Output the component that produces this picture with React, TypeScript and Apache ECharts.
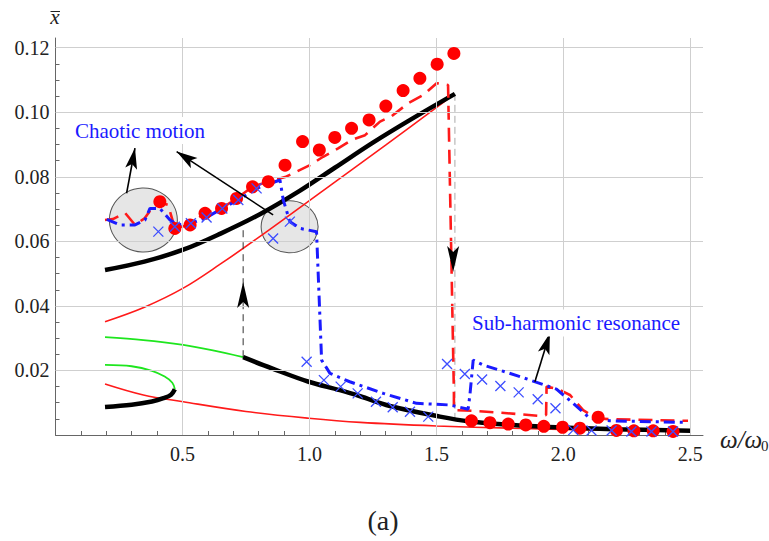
import React, { useEffect, useRef } from 'react';
import * as echarts from 'echarts';

// ---------- tick values ----------
const X_TICK_VALUES = [0.5, 1.0, 1.5, 2.0, 2.5];
const Y_TICK_VALUES = [0.02, 0.04, 0.06, 0.08, 0.1, 0.12];

// ---------- analytical curves ----------
const blackUpper = [
  [0.195, 0.0511], [0.35, 0.0537], [0.503, 0.0574], [0.65, 0.0624], [0.805, 0.0684],
  [0.963, 0.0757], [1.1, 0.0828], [1.25, 0.0906], [1.4, 0.0978], [1.573, 0.1057],
];
const redUpper = [
  [0.195, 0.0351], [0.35, 0.0396], [0.503, 0.0455], [0.65, 0.053], [0.8, 0.0612],
  [1.054, 0.0757], [1.3, 0.0898], [1.566, 0.1053],
];
const greenUpper = [
  [0.195, 0.0303], [0.346, 0.0294], [0.503, 0.0279], [0.62, 0.0262], [0.739, 0.0241],
];
const blackLower = [
  [0.739, 0.0241], [0.85, 0.0207], [0.997, 0.0165], [1.12, 0.0139], [1.2, 0.012],
  [1.317, 0.009], [1.514, 0.0057], [1.632, 0.0042], [1.8, 0.0031], [2.0, 0.0023],
  [2.2, 0.0018], [2.5, 0.0013],
];
const greenFold = [
  [0.195, 0.0217], [0.3, 0.0213], [0.38, 0.0199], [0.43, 0.0181], [0.46, 0.0162], [0.47, 0.0142],
];
const blackFold = [
  [0.47, 0.0142], [0.455, 0.0125], [0.425, 0.0114], [0.38, 0.0104], [0.3, 0.0094], [0.195, 0.0087],
];
const redLower = [
  [0.195, 0.0158], [0.346, 0.0124], [0.503, 0.0103], [0.75, 0.0073], [0.997, 0.0052],
  [1.2, 0.0039], [1.5, 0.0028], [1.8, 0.0021], [2.1, 0.0016], [2.5, 0.0012],
];

// ---------- numerical paths ----------
const redDashed = [
  [0.195, 0.0666], [0.226, 0.0669], [0.274, 0.0688], [0.313, 0.0651], [0.352, 0.0672],
  [0.38, 0.0703], [0.404, 0.0722], [0.443, 0.0713], [0.47, 0.0641], [0.53, 0.0651],
  [0.589, 0.0688], [0.654, 0.0702], [0.713, 0.0733], [0.776, 0.0769], [0.838, 0.0785],
  [0.904, 0.0799], [0.936, 0.0811], [1.002, 0.0836], [1.054, 0.0862], [1.113, 0.0888],
  [1.166, 0.0914], [1.219, 0.0929], [1.278, 0.0971], [1.324, 0.0988], [1.389, 0.1028],
  [1.448, 0.1053], [1.501, 0.109], [1.546, 0.1084], [1.548, 0.1], [1.569, 0.013],
  [1.569, 0.0077], [1.639, 0.0075], [1.757, 0.0069], [1.907, 0.0059], [1.932, 0.0062],
  [1.934, 0.015], [1.98, 0.0142], [2.026, 0.0124], [2.078, 0.0077], [2.131, 0.0052],
  [2.183, 0.0049], [2.491, 0.0044],
];
const blueDashDot = [
  [0.202, 0.0668], [0.254, 0.0651], [0.313, 0.0651], [0.352, 0.0666], [0.372, 0.0702],
  [0.411, 0.0702], [0.451, 0.0666], [0.482, 0.0651], [0.533, 0.0656], [0.595, 0.0674],
  [0.656, 0.0702], [0.719, 0.0728], [0.793, 0.0764], [0.884, 0.079], [0.897, 0.0728],
  [0.923, 0.0661], [0.963, 0.064], [1.028, 0.063], [1.048, 0.0232], [1.081, 0.0191],
  [1.159, 0.0165], [1.291, 0.0129], [1.422, 0.0098], [1.553, 0.0093], [1.625, 0.008],
  [1.632, 0.0124], [1.645, 0.0232], [1.684, 0.0217], [1.829, 0.0181], [1.973, 0.0142],
  [2.039, 0.0098], [2.104, 0.0052], [2.183, 0.0044], [2.485, 0.0039],
];
const redDots = [
  [0.411, 0.0723], [0.47, 0.064], [0.53, 0.0651], [0.589, 0.0687], [0.654, 0.0702],
  [0.713, 0.0733], [0.776, 0.0769], [0.838, 0.0785], [0.904, 0.0836], [0.973, 0.0909],
  [1.039, 0.0883], [1.1, 0.0922], [1.166, 0.095], [1.235, 0.0976], [1.301, 0.1019],
  [1.369, 0.1067], [1.435, 0.1105], [1.503, 0.1149], [1.569, 0.1182],
  [1.638, 0.0044], [1.711, 0.0038], [1.783, 0.0034], [1.852, 0.0031], [1.923, 0.0027],
  [1.997, 0.0024], [2.065, 0.0021], [2.137, 0.0055], [2.209, 0.0014], [2.278, 0.0013],
  [2.354, 0.0013], [2.432, 0.0011],
];
const blueCrosses = [
  [0.405, 0.063], [0.47, 0.0645], [0.533, 0.0656], [0.595, 0.0674], [0.657, 0.0702],
  [0.72, 0.0728], [0.792, 0.0764], [0.857, 0.0609], [0.923, 0.0661],
  [0.989, 0.0227], [1.057, 0.017], [1.123, 0.015], [1.19, 0.0129], [1.262, 0.0103],
  [1.328, 0.0086], [1.396, 0.0072], [1.468, 0.0057], [1.542, 0.022], [1.612, 0.0189],
  [1.68, 0.0172], [1.752, 0.0152], [1.824, 0.0132], [1.899, 0.0111], [1.969, 0.0083],
  [2.039, 0.0015], [2.111, 0.0014], [2.19, 0.0014], [2.268, 0.0011], [2.347, 0.0011],
  [2.432, 0.0011],
];

// ---------- annotations ----------
const jumpUp = [[0.739, 0.0241], [0.739, 0.0636]];
const jumpDown = [[1.573, 0.1057], [1.573, 0.0046]];
const circleCenters = [[0.346, 0.0666], [0.922, 0.0645]];
// [start, tip]
const annotationArrows = [
  [[0.28, 0.0749], [0.313, 0.0889]],
  [[0.857, 0.0682], [0.477, 0.0878]],
  [[1.888, 0.0165], [1.947, 0.0315]],
];
const jumpArrows = [
  [[0.739, 0.03], [0.739, 0.0474]],
  [[1.566, 0.07], [1.566, 0.0505]],
];

const SERIF = 'Liberation Serif';
const HEAD_PATH = 'path://M6,0L12,22L6,17L0,22Z';

export default function App() {
  const ref = useRef<HTMLDivElement>(null);
  useEffect(() => {
    document.body.style.margin = '0';
    if (!ref.current) return;
    const chart = echarts.init(ref.current, undefined, { renderer: 'svg' });
    const isTick = (v: number, list: number[]) => list.some((t) => Math.abs(t - v) < 1e-9);
    const txt = (size: number, extra: any = {}) => ({ fontFamily: SERIF, fontSize: size, ...extra });
    const option: any = {
      animation: false,
      backgroundColor: '#fff',
      textStyle: { fontFamily: SERIF },
      grid: { left: 55.5, right: 66, top: 38, bottom: 106 },
      xAxis: {
        type: 'value', min: 0, max: 2.55, interval: 0.5,
        axisLine: { lineStyle: { color: '#666', width: 1 } },
        axisTick: { show: true, inside: true, length: 6, lineStyle: { color: '#666' }, customValues: X_TICK_VALUES },
        minorTick: { show: true, splitNumber: 5, length: 4, lineStyle: { color: '#666' } },
        splitLine: { show: false },
        axisLabel: {
          margin: 9, color: '#222', fontSize: 20, fontFamily: SERIF,
          formatter: (v: number) => (isTick(v, X_TICK_VALUES) ? v.toFixed(1) : ''),
        },
      },
      yAxis: {
        type: 'value', min: 0, max: 0.123, interval: 0.02,
        axisLine: { show: true, lineStyle: { color: '#666', width: 1 } },
        axisTick: { show: true, inside: true, length: 6, lineStyle: { color: '#666' }, customValues: Y_TICK_VALUES },
        minorTick: { show: true, splitNumber: 4, length: 4, lineStyle: { color: '#666' } },
        splitLine: { show: false },
        axisLabel: {
          margin: 6, color: '#222', fontSize: 20, fontFamily: SERIF,
          formatter: (v: number) => (isTick(v, Y_TICK_VALUES) ? v.toFixed(2) : ''),
        },
      },
      series: [
        {
          type: 'line', data: [], z: 0, silent: true,
          markLine: {
            silent: true, symbol: 'none', label: { show: false },
            lineStyle: { color: '#cfcfcf', type: 'solid', width: 1 },
            data: [
              ...X_TICK_VALUES.map((v) => ({ xAxis: v })),
              ...Y_TICK_VALUES.map((v) => ({ yAxis: v })),
            ],
          },
        },
        {
          type: 'scatter', z: 1, silent: true,
          data: [
            { value: circleCenters[0], symbolSize: [68, 64] },
            { value: circleCenters[1], symbolSize: [57, 52] },
          ],
          itemStyle: { color: 'rgba(228,228,228,0.92)', borderColor: '#555', borderWidth: 1, opacity: 1 },
        },
        { type: 'line', data: redUpper, smooth: 0.35, showSymbol: false, z: 2, lineStyle: { color: '#ff1a1a', width: 1.6 } },
        { type: 'line', data: redLower, smooth: 0.35, showSymbol: false, z: 2, lineStyle: { color: '#ff1a1a', width: 1.6 } },
        { type: 'line', data: greenUpper, smooth: 0.35, showSymbol: false, z: 2, lineStyle: { color: '#1ee61e', width: 1.8 } },
        { type: 'line', data: greenFold, smooth: 0.35, showSymbol: false, z: 2, lineStyle: { color: '#1ee61e', width: 1.8 } },
        { type: 'line', data: jumpUp, showSymbol: false, z: 2, lineStyle: { color: '#333', width: 1, type: [7, 5] } },
        { type: 'line', data: jumpDown, showSymbol: false, z: 2, lineStyle: { color: '#aaa', width: 1, type: [7, 4] } },
        { type: 'line', data: blackUpper, smooth: 0.35, showSymbol: false, z: 3, lineStyle: { color: '#000', width: 4.5 } },
        { type: 'line', data: blackLower, smooth: 0.35, showSymbol: false, z: 3, lineStyle: { color: '#000', width: 4.5 } },
        { type: 'line', data: blackFold, smooth: 0.35, showSymbol: false, z: 3, lineStyle: { color: '#000', width: 4.5 } },
        { type: 'line', data: redDashed, showSymbol: false, z: 4, lineStyle: { color: '#ff1a1a', width: 2.6, type: [14, 8] } },
        { type: 'line', data: blueDashDot, showSymbol: false, z: 5, lineStyle: { color: '#1a1aff', width: 3, type: [11, 5, 3, 5] } },
        { type: 'scatter', data: redDots, z: 6, symbol: 'circle', symbolSize: 13, itemStyle: { color: '#ff0000', opacity: 1 } },
        {
          type: 'scatter', data: blueCrosses, z: 7,
          symbol: 'path://M0,0L10,10M10,0L0,10', symbolSize: 10,
          itemStyle: { color: 'none', borderColor: '#3d4dff', borderWidth: 1.3, opacity: 1 },
        },
        {
          type: 'lines', coordinateSystem: 'cartesian2d', z: 8, polyline: false, silent: true,
          lineStyle: { color: '#000', width: 1.6, opacity: 1 },
          data: annotationArrows.map((c) => ({ coords: c })),
        },
        { id: 'heads', type: 'scatter', z: 9, silent: true, data: [], symbol: HEAD_PATH, itemStyle: { color: '#000', opacity: 1 } },
      ],
      graphic: [
        { type: 'text', x: 55, y: 17, style: { text: 'x', ...txt(21, { fontStyle: 'italic' }), fill: '#222', align: 'center', verticalAlign: 'middle' } },
        { type: 'line', shape: { x1: 50.5, y1: 11.5, x2: 60, y2: 11.5 }, style: { stroke: '#222', lineWidth: 1 } },
        {
          type: 'text', x: 74, y: 130.5, z: 10,
          style: { text: 'Chaotic motion', ...txt(21), fill: '#1a1aff', verticalAlign: 'middle', backgroundColor: '#fff', padding: [3, 1] },
        },
        {
          type: 'text', x: 471, y: 323, z: 10,
          style: { text: 'Sub-harmonic resonance', ...txt(21), fill: '#1a1aff', verticalAlign: 'middle', backgroundColor: '#fff', padding: [3, 1] },
        },
        { type: 'text', x: 720, y: 439, style: { text: 'ω/ω', ...txt(25, { fontStyle: 'italic' }), fill: '#222', verticalAlign: 'middle' } },
        { type: 'text', x: 761, y: 446, style: { text: '0', ...txt(15), fill: '#222', verticalAlign: 'middle' } },
        { type: 'text', x: 383, y: 520, style: { text: '(a)', ...txt(28), fill: '#222', align: 'center', verticalAlign: 'middle' } },
      ],
    };
    chart.setOption(option);

    // arrowheads: oriented along each arrow in screen space
    const makeHead = (seg: number[][], size: number[]) => {
      const p1 = chart.convertToPixel({ gridIndex: 0 }, seg[0]) as number[];
      const p2 = chart.convertToPixel({ gridIndex: 0 }, seg[1]) as number[];
      const dx = p2[0] - p1[0];
      const dy = p2[1] - p1[1];
      const len = Math.hypot(dx, dy) || 1;
      const ux = dx / len;
      const uy = dy / len;
      const rot = (Math.atan2(-uy, ux) * 180) / Math.PI - 90;
      return {
        value: seg[1],
        symbolSize: size,
        symbolRotate: rot,
        symbolOffset: [-(size[1] / 2) * ux, -(size[1] / 2) * uy],
      };
    };
    const heads = [
      ...annotationArrows.map((s) => makeHead(s, [12, 21])),
      ...jumpArrows.map((s) => makeHead(s, [12, 26])),
    ];
    chart.setOption({ series: [{ id: 'heads', data: heads }] });
    return () => chart.dispose();
  }, []);
  return <div ref={ref} style={{ width: 769, height: 541 }} />;
}
